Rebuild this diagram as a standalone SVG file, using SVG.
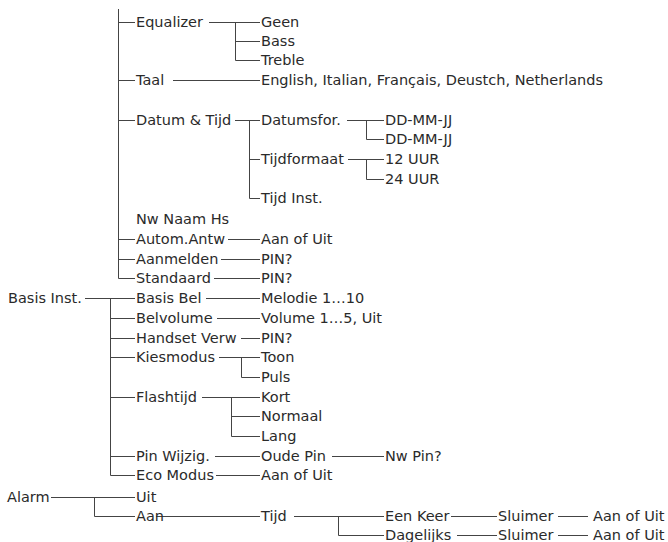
<svg xmlns="http://www.w3.org/2000/svg" width="668" height="542" viewBox="0 0 668 542">
<style>
text{font-family:"DejaVu Sans",Verdana,sans-serif;font-size:14.5px;fill:#2a2a2a}
.c{fill:none;stroke:#444;stroke-width:1}
</style>
<rect width="668" height="542" fill="#fff"/>
<g id="connectors" class="c">
<path d="M118.5 9V278.5H135"/>
<path d="M118 22.5H135M118 80.5H135M118 120.5H135M118 239.5H135M118 259.5H135"/>
<path d="M209 22.5H260M235.5 22V60.5H260M235 41.5H260"/>
<path d="M173 80.5H260"/>
<path d="M235 120.5H260M249.5 120V198.5H260M249 159.5H260"/>
<path d="M347 120.5H384M366.5 120V139.5H384"/>
<path d="M348 159.5H384M366.5 159V179.5H384"/>
<path d="M228 239.5H260M221 259.5H260M214 278.5H260"/>
<path d="M85 298.5H135M110.5 298V475.5H135"/>
<path d="M110 318.5H135M110 338.5H135M110 357.5H135M110 397.5H135M110 456.5H135"/>
<path d="M206 298.5H260M217 318.5H260M241 338.5H260"/>
<path d="M219 357.5H260M241.5 357V377.5H260"/>
<path d="M202 397.5H260M231.5 397V436.5H260M231 416.5H260"/>
<path d="M215 456.5H260M332 456.5H384M216 475.5H260"/>
<path d="M51 497.5H135M94.5 497V516.5H135"/>
<path d="M156 516.5H260M294 516.5H384M338.5 516V535.5H384"/>
<path d="M451 516.5H497M457 535.5H497M558 516.5H588M558 535.5H588"/>
</g>
<g id="equalizer"><text x="136" y="27">Equalizer</text></g>
<g id="geen"><text x="261" y="27">Geen</text></g>
<g id="bass"><text x="261" y="46">Bass</text></g>
<g id="treble"><text x="261" y="65">Treble</text></g>
<g id="taal"><text x="136" y="85">Taal</text></g>
<g id="talen"><text x="261" y="85">English, Italian, Français, Deustch, Netherlands</text></g>
<g id="datum-tijd"><text x="136" y="125">Datum &amp; Tijd</text></g>
<g id="datumsfor"><text x="261" y="125">Datumsfor.</text></g>
<g id="dd1"><text x="385" y="125">DD-MM-JJ</text></g>
<g id="dd2"><text x="385" y="144">DD-MM-JJ</text></g>
<g id="tijdformaat"><text x="261" y="164">Tijdformaat</text></g>
<g id="uur12"><text x="385" y="164">12 UUR</text></g>
<g id="uur24"><text x="385" y="184">24 UUR</text></g>
<g id="tijd-inst"><text x="261" y="203">Tijd Inst.</text></g>
<g id="nw-naam"><text x="136" y="224">Nw Naam Hs</text></g>
<g id="autom"><text x="136" y="244">Autom.Antw</text></g>
<g id="autom-val"><text x="261" y="244">Aan of Uit</text></g>
<g id="aanmelden"><text x="136" y="264">Aanmelden</text></g>
<g id="aanmelden-pin"><text x="261" y="264">PIN?</text></g>
<g id="standaard"><text x="136" y="283">Standaard</text></g>
<g id="standaard-pin"><text x="261" y="283">PIN?</text></g>
<g id="basis-inst"><text x="8" y="303">Basis Inst.</text></g>
<g id="basis-bel"><text x="136" y="303">Basis Bel</text></g>
<g id="melodie"><text x="261" y="303">Melodie 1…10</text></g>
<g id="belvolume"><text x="136" y="323">Belvolume</text></g>
<g id="volume"><text x="261" y="323">Volume 1…5, Uit</text></g>
<g id="handset"><text x="136" y="343">Handset Verw</text></g>
<g id="handset-pin"><text x="261" y="343">PIN?</text></g>
<g id="kiesmodus"><text x="136" y="362">Kiesmodus</text></g>
<g id="toon"><text x="261" y="362">Toon</text></g>
<g id="puls"><text x="261" y="382">Puls</text></g>
<g id="flashtijd"><text x="136" y="402">Flashtijd</text></g>
<g id="kort"><text x="261" y="402">Kort</text></g>
<g id="normaal"><text x="261" y="421">Normaal</text></g>
<g id="lang"><text x="261" y="441">Lang</text></g>
<g id="pin-wijzig"><text x="136" y="461">Pin Wijzig.</text></g>
<g id="oude-pin"><text x="261" y="461">Oude Pin</text></g>
<g id="nw-pin"><text x="385" y="461">Nw Pin?</text></g>
<g id="eco"><text x="136" y="480">Eco Modus</text></g>
<g id="eco-val"><text x="261" y="480">Aan of Uit</text></g>
<g id="alarm"><text x="7" y="502">Alarm</text></g>
<g id="uit"><text x="136" y="502">Uit</text></g>
<g id="aan"><text x="136" y="521">Aan</text></g>
<g id="tijd"><text x="261" y="521">Tijd</text></g>
<g id="een-keer"><text x="385" y="521">Een Keer</text></g>
<g id="dagelijks"><text x="385" y="540">Dagelijks</text></g>
<g id="sluimer1"><text x="498" y="521">Sluimer</text></g>
<g id="sluimer2"><text x="498" y="540">Sluimer</text></g>
<g id="aan-uit1"><text x="593" y="521">Aan of Uit</text></g>
<g id="aan-uit2"><text x="593" y="540">Aan of Uit</text></g>
</svg>
